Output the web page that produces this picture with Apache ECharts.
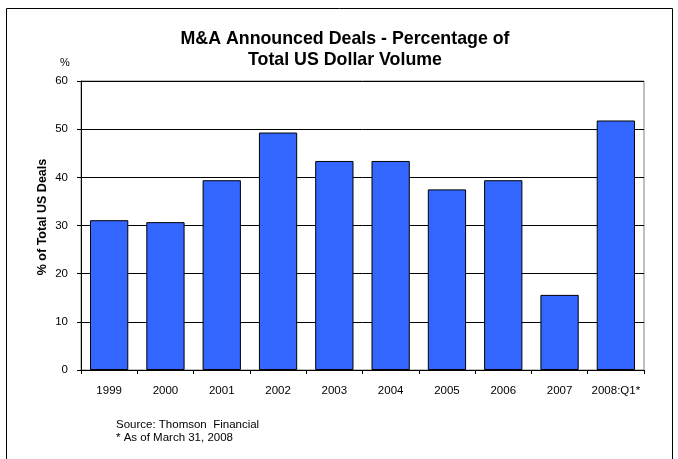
<!DOCTYPE html>
<html>
<head>
<meta charset="utf-8">
<script src="https://cdn.jsdelivr.net/npm/echarts@6/dist/echarts.min.js"></script>
<style>
  html, body { margin: 0; padding: 0; background: #fff; }
  #chart { width: 678px; height: 459px; }
</style>
</head>
<body>
<div id="chart"></div>
<script>
// Share of total US dollar volume in announced M&A deals, by year
const years = ['1999', '2000', '2001', '2002', '2003', '2004', '2005', '2006', '2007', '2008:Q1*'];
const pctOfTotal = [31.1, 30.7, 39.4, 49.3, 43.4, 43.4, 37.5, 39.4, 15.6, 51.8];
const yTicks = [0, 10, 20, 30, 40, 50, 60];

const FONT = '"Liberation Sans", Arial, sans-serif';

const chart = echarts.init(document.getElementById('chart'), null, { renderer: 'canvas' });

chart.setOption({
  backgroundColor: '#ffffff',
  animation: false,
  grid: {
    left: 81,
    right: 34,
    top: 81,
    bottom: 89,
    show: true,
    borderColor: '#808080',
    borderWidth: 1,
    backgroundColor: 'transparent'
  },
  xAxis: {
    type: 'category',
    data: years,
    axisLine: { lineStyle: { color: '#000', width: 1 } },
    axisTick: { show: true, inside: false, length: 4, alignWithLabel: false, lineStyle: { color: '#000' } },
    axisLabel: { fontFamily: FONT, fontSize: 11.5, color: '#000', margin: 15, interval: 0 }
  },
  yAxis: {
    type: 'value',
    min: yTicks[0],
    max: yTicks[yTicks.length - 1],
    interval: 10,
    axisLine: { show: true, lineStyle: { color: '#000', width: 1 } },
    axisTick: { show: true, length: 4, lineStyle: { color: '#000' } },
    axisLabel: { fontFamily: FONT, fontSize: 11.5, color: '#000', margin: 13 },
    splitLine: { show: true, lineStyle: { color: '#000', width: 1 } }
  },
  series: [{
    type: 'bar',
    data: pctOfTotal,
    barCategoryGap: '32%',
    itemStyle: { color: '#3366FF', borderColor: '#000', borderWidth: 1 }
  }],
  graphic: [
    {
      // outer frame
      type: 'rect',
      shape: { x: 6.5, y: 8.5, width: 666, height: 470 },
      style: { fill: 'none', stroke: '#000', lineWidth: 1 },
      silent: true
    },
    {
      // chart heading
      type: 'text',
      x: 345, y: 29,
      style: {
        text: 'M&A Announced Deals - Percentage of\nTotal US Dollar Volume',
        font: 'bold 17.8px ' + FONT,
        fill: '#000',
        align: 'center',
        verticalAlign: 'top',
        lineHeight: 21
      }
    },
    {
      // vertical axis title
      type: 'text',
      x: 43, y: 217,
      rotation: Math.PI / 2,
      style: {
        text: '% of Total US Deals',
        font: 'bold 12.5px ' + FONT,
        fill: '#000',
        align: 'center',
        verticalAlign: 'middle'
      }
    },
    {
      type: 'text',
      left: 60, top: 57,
      style: { text: '%', font: '11px ' + FONT, fill: '#000' }
    },
    {
      type: 'text',
      left: 116, top: 418,
      style: {
        text: 'Source: Thomson  Financial\n* As of March 31, 2008',
        font: '11.5px ' + FONT,
        fill: '#000',
        lineHeight: 13
      }
    }
  ]
});
</script>
</body>
</html>
